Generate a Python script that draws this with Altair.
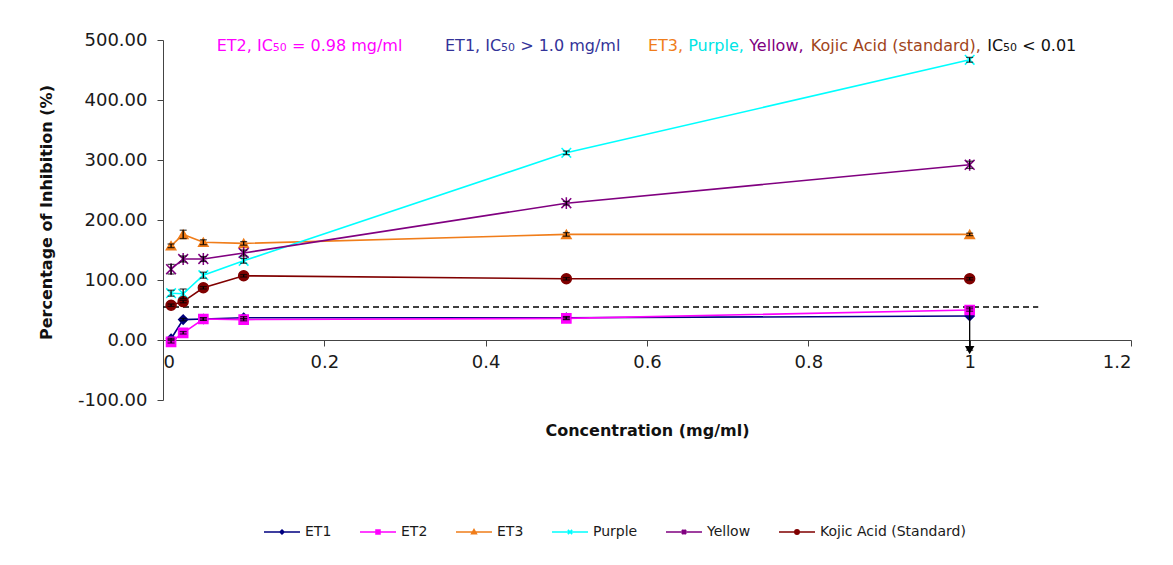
import altair as alt
import pandas as pd

# ---------------- data ----------------
conc = [0.01, 0.025, 0.05, 0.1, 0.5, 1.0]
series_names = ["ET1", "ET2", "ET3", "Purple", "Yellow", "Kojic Acid (Standard)"]

et1 = [2, 34, 35, 37, 37, 40]
et2 = [-3, 12, 35, 34, 36, 50]
et3 = [157, 176, 163, 161, 176, 176]
purple = [78, 77, 108, 132, 312, 467]
yellow = [118, 135, 135, 145, 228, 292]
kojic = [58, 64, 87, 107, 102, 102]

# error bars (lower / upper extents, in %)
et1_err_lo = [1, 2, 2, 2, 2, 57]
et1_err_hi = [1, 2, 2, 2, 2, 15]
et2_err = [2, 2, 2, 2, 2, 2]
et3_err = [3, 7, 4, 3, 3, 2]
purple_err = [5, 8, 5, 4, 3, 4]
yellow_err = [8, 5, 4, 5, 3, 6]
kojic_err = [2, 2, 2, 2, 2, 2]

threshold = 55          # dashed reference line (%)
threshold_x_end = 1.085

x_ticks = [0, 0.2, 0.4, 0.6, 0.8, 1.0, 1.2]
y_ticks = [-100, 0, 100, 200, 300, 400, 500]

# annotation pieces at the top of the plot
ann_text = ["ET2, IC", "50", "= 0.98 mg/ml",
            "ET1, IC", "50", "> 1.0 mg/ml",
            "ET3,", "Purple,", "Yellow,", "Kojic Acid (standard),", "IC", "50", "< 0.01"]
ann_x = [0.0666, 0.1361, 0.1599,
         0.3496, 0.4191, 0.4428,
         0.6012, 0.6511, 0.7267, 0.8031, 1.0217, 1.0414, 1.0651]
ann_y = [481.7] * len(ann_text)

# ---------------- styles ----------------
colors = ["#000080", "#FF00FF", "#F07D1A", "#00FFFF", "#800080", "#800000"]
ann_colors = ["#FF00FF", "#FF00FF", "#FF00FF",
              "#333399", "#333399", "#333399",
              "#F07D1A", "#00E5E5", "#800080", "#A0441A", "#111111", "#111111", "#111111"]
ann_sizes = [16, 11, 16, 16, 11, 16, 16, 16, 16, 16, 16, 11, 16]

X_PATH = "M-1,-1L1,1M-1,1L1,-1"
AST_PATH = "M-1,-1L1,1M-1,1L1,-1M0,-1.2L0,1.2"
plot_shapes = ["diamond", "square", "triangle-up", X_PATH, AST_PATH, "circle"]
plot_sizes = [80, 100, 130, 60, 70, 100]
legend_shapes = [
    "M-1,0H1M0,-0.11L0.11,0L0,0.11L-0.11,0Z",
    "M-1,0H1M-0.11,-0.11H0.11V0.11H-0.11Z",
    "M-1,0H1M0,-0.13L0.13,0.1H-0.13Z",
    "M-1,0H1M-0.12,-0.12L0.12,0.12M-0.12,0.12L0.12,-0.12",
    "M-1,0H1M-0.12,-0.12L0.12,0.12M-0.12,0.12L0.12,-0.12M0,-0.14L0,0.14",
    "M-1,0H1M-0.12,0A0.12,0.12 0 1,0 0.12,0A0.12,0.12 0 1,0 -0.12,0Z",
]

FONT = "DejaVu Sans"

# ---------------- tables ----------------
vals = [et1, et2, et3, purple, yellow, kojic]
lo_errs = [et1_err_lo, et2_err, et3_err, purple_err, yellow_err, kojic_err]
hi_errs = [et1_err_hi, et2_err, et3_err, purple_err, yellow_err, kojic_err]
rows = []
for name, v, le, he in zip(series_names, vals, lo_errs, hi_errs):
    for i, c in enumerate(conc):
        rows.append({"series": name, "x": c, "y": v[i],
                     "lo": v[i] - le[i], "hi": v[i] + he[i], "order": i})
df = pd.DataFrame(rows)

arrow_df = df[(df.series == "ET1") & (df.x == 1.0)].copy()

thr_df = pd.DataFrame({"x": [0.0], "x2": [threshold_x_end], "y": [threshold]})
ann_df = pd.DataFrame({"text": ann_text, "x": ann_x, "y": ann_y,
                       "color": ann_colors, "size": ann_sizes})

x_scale = alt.Scale(domain=[0, 1.2], nice=False, zero=False)
y_scale = alt.Scale(domain=[-100, 500], nice=False)

x_axis = alt.Axis(values=x_ticks, format="~g", offset=-60, grid=False,
                  labelFont=FONT, labelFontSize=18, labelColor="#1a1a1a",
                  labelPadding=7, tickSize=6, tickColor="#444", domainColor="#444",
                  title="Concentration (mg/ml)", titleFont=FONT, titleFontSize=16,
                  titleFontWeight="bold", titleColor="#111",
                  titleY=90, titleBaseline="middle")
y_axis = alt.Axis(values=y_ticks, grid=False,
                  labelExpr="(datum.value < 0 ? '-' : '') + format(abs(datum.value), '.2f')",
                  labelFont=FONT, labelFontSize=18, labelColor="#1a1a1a",
                  labelPadding=10, tickSize=6, tickColor="#444", domainColor="#444",
                  title="Percentage of Inhibition (%)", titleFont=FONT, titleFontSize=16,
                  titleFontWeight="bold", titleColor="#111",
                  titleX=-117, titleY=172, titleAngle=270,
                  titleAlign="center", titleBaseline="middle")

X = alt.X("x:Q", scale=x_scale, axis=x_axis)
Y = alt.Y("y:Q", scale=y_scale, axis=y_axis)

stroke_scale = alt.Scale(domain=series_names, range=colors)

base = alt.Chart(df)

lines = base.mark_line(strokeWidth=1.6).encode(
    x=X, y=Y,
    stroke=alt.Stroke("series:N", scale=stroke_scale, legend=None),
    order="order:Q",
    detail="series:N",
)

errbars = base.mark_rule(color="black", strokeWidth=1.3).encode(
    x="x:Q", y="lo:Q", y2="hi:Q")
caps_lo = base.mark_tick(color="black", orient="horizontal", size=7, thickness=1.3).encode(
    x="x:Q", y="lo:Q")
caps_hi = base.mark_tick(color="black", orient="horizontal", size=7, thickness=1.3).encode(
    x="x:Q", y="hi:Q")

points = base.mark_point(filled=False, strokeWidth=1.5, opacity=1).encode(
    x="x:Q", y="y:Q",
    shape=alt.Shape("series:N", scale=alt.Scale(domain=series_names, range=plot_shapes), legend=None),
    fill=alt.Fill("series:N", scale=alt.Scale(domain=series_names, range=colors), legend=None),
    stroke=alt.Stroke("series:N", scale=stroke_scale, legend=None),
    size=alt.Size("series:N", scale=alt.Scale(domain=series_names, range=plot_sizes), legend=None),
)

arrow = alt.Chart(arrow_df).mark_point(shape="triangle-down", filled=True, color="black",
                                        size=90, opacity=1).encode(
    x="x:Q", y="lo:Q")

legend_layer = base.mark_point(opacity=0).encode(
    x="x:Q", y="y:Q",
    shape=alt.Shape("series:N", scale=alt.Scale(domain=series_names, range=legend_shapes),
                    legend=alt.Legend(title=None)),
    fill=alt.Fill("series:N", scale=alt.Scale(domain=series_names, range=colors),
                  legend=alt.Legend(title=None)),
    stroke=alt.Stroke("series:N", scale=alt.Scale(domain=series_names, range=colors),
                      legend=alt.Legend(title=None)),
)

thr = alt.Chart(thr_df).mark_rule(color="black", strokeDash=[6, 4], strokeWidth=1.5).encode(
    x="x:Q", x2="x2:Q", y="y:Q")

ann = alt.Chart(ann_df).mark_text(align="left", baseline="alphabetic", font=FONT).encode(
    x="x:Q", y="y:Q", text="text:N",
    color=alt.Color("color:N", scale=None),
    size=alt.Size("size:Q", scale=None),
)

chart = alt.layer(
    thr, lines, points, errbars, caps_lo, caps_hi, arrow, legend_layer, ann
).resolve_scale(
    shape="independent", fill="independent", stroke="independent", size="independent"
).properties(
    width=968, height=360,
    autosize=alt.AutoSizeParams(type="none"),
    padding={"left": 155, "top": 32, "right": 20, "bottom": 140},
).configure_view(
    stroke=None
).configure_legend(
    orient="none", legendX=100, legendY=473, direction="horizontal",
    columns=6, symbolSize=1296, symbolStrokeWidth=1.6, symbolOpacity=1,
    labelFont=FONT, labelFontSize=14, labelColor="#1a1a1a",
    labelOffset=4, columnPadding=24, padding=0,
)

chart.save("out.html", embed_options={"renderer": "svg", "actions": False})
